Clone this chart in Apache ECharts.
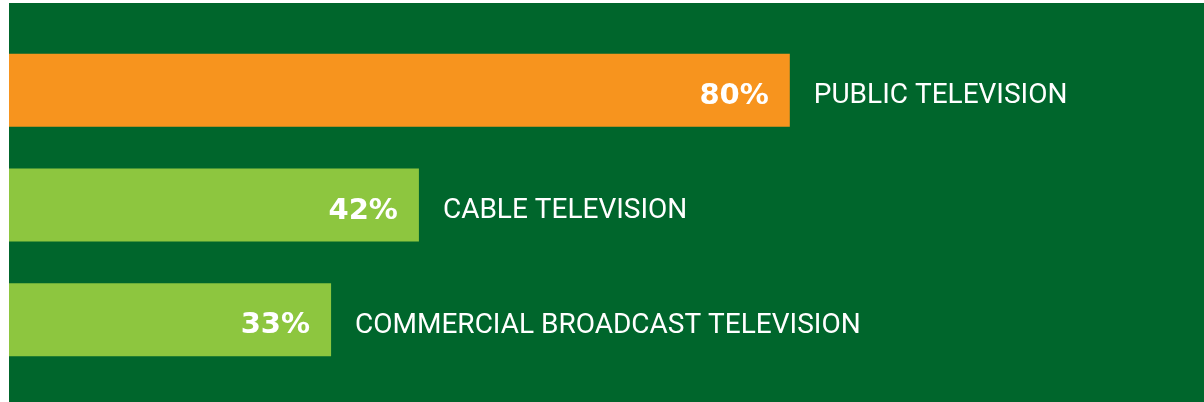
<!DOCTYPE html>
<html>
<head>
<meta charset="utf-8">
<script src="https://cdn.jsdelivr.net/npm/echarts@6/dist/echarts.min.js"></script>
<style>
	html, body { margin: 0; padding: 0; background: #ffffff; }
	#main {
		position: absolute;
		left: 9px;
		top: 3px;
		width: 1195px;
		height: 399px;
	}
</style>
</head>
<body>
<div id="main"></div>
<script>
var categories = ['PUBLIC TELEVISION', 'CABLE TELEVISION', 'COMMERCIAL BROADCAST TELEVISION'];
var values = [80, 42, 33];
var barColors = ['#f7941e', '#8dc63f', '#8dc63f'];

var myChart = echarts.init(document.getElementById('main'));

var option = {
	backgroundColor: '#00662c',
	animation: false,
	grid: {
		left: 0,
		top: 30,
		width: 976,
		height: 344
	},
	xAxis: {
		type: 'value',
		min: 0,
		max: 100,
		show: false
	},
	yAxis: {
		type: 'category',
		data: categories,
		inverse: true,
		show: false
	},
	series: [
		{
			// bars with the percentage inside
			type: 'bar',
			barWidth: 73,
			data: values.map(function (v, i) {
				return { value: v, itemStyle: { color: barColors[i] } };
			}),
			label: {
				show: true,
				position: 'insideRight',
				distance: 21,
				offset: [0, 6],
				formatter: '{c}%',
				color: '#ffffff',
				fontFamily: 'DejaVu Sans',
				fontWeight: 'bold',
				fontSize: 29
			}
		},
		{
			// invisible copy that carries the category name
			type: 'bar',
			barWidth: 73,
			barGap: '-100%',
			data: values,
			itemStyle: { color: 'rgba(0,0,0,0)' },
			silent: true,
			label: {
				show: true,
				position: 'right',
				distance: 24,
				offset: [0, 6],
				formatter: '{b}',
				color: '#ffffff',
				fontFamily: 'Roboto',
				fontSize: 28
			}
		}
	]
};

myChart.setOption(option);
</script>
</body>
</html>
